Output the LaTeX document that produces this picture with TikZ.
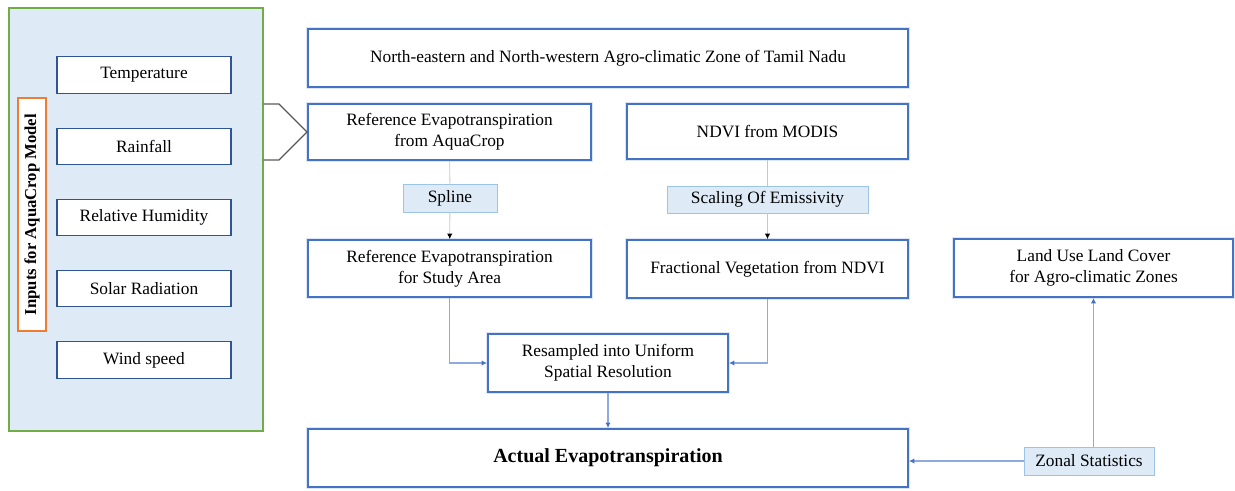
\documentclass[tikz,border=0pt]{standalone}
\usepackage{fontspec}
\setmainfont{Liberation Serif}
\usetikzlibrary{arrows.meta}
\definecolor{boxblue}{HTML}{4472C4}
\definecolor{inblue}{HTML}{2F5597}
\definecolor{panelfill}{HTML}{DEEBF7}
\definecolor{panelgreen}{HTML}{70AD47}
\definecolor{titleorange}{HTML}{ED7D31}
\definecolor{notefill}{HTML}{DEEBF7}
\definecolor{noteborder}{HTML}{9DC3E6}
\definecolor{linegray}{HTML}{C8C8C8}
\definecolor{lineblue}{HTML}{8FAADC}
\definecolor{chevgray}{HTML}{595959}

\begin{document}
\begin{tikzpicture}[x=0.75pt,y=-0.75pt,
    mainbox/.style={draw=boxblue, line width=1.5pt, fill=white,
        preaction={draw=boxblue!18, line width=3.5pt},
        align=center, inner sep=2pt, font=\fontsize{13}{15.5}\selectfont},
    inbox/.style={draw=inblue, line width=0.9pt, fill=white, minimum width=130.5pt,
        minimum height=27.4pt, font=\fontsize{13}{15}\selectfont},
    notebox/.style={draw=noteborder, fill=notefill, line width=0.6pt, inner sep=1pt,
        font=\fontsize{13}{15}\selectfont},
    grayline/.style={draw=linegray, line width=0.6pt},
    blueline/.style={draw=lineblue, line width=0.8pt}]
    \useasboundingbox (0,0) rectangle (1235,490);

    % inputs panel
    \node[draw=panelgreen, fill=panelfill, line width=0.9pt, minimum width=190.5pt,
        minimum height=317.25pt] (panel) at (136,219.5) {};
    \node[draw=titleorange, fill=white, line width=0.9pt, rotate=90, inner sep=0pt,
        minimum width=174.75pt, minimum height=21pt,
        font=\bfseries\fontsize{12.5}{14}\selectfont] (title) at (32,214.5) {Inputs for AquaCrop Model};
    \foreach \name/\ypos/\txt in {temp/75/Temperature, rain/146.5/Rainfall,
        rh/217.5/Relative Humidity, srad/288.5/Solar Radiation, wind/360/Wind speed}
        \node[inbox] (\name) at (144,\ypos) {\txt};

    % main boxes
    \node[mainbox, minimum width=450pt, minimum height=43.5pt] (zone) at (608,58)
        {North-eastern and North-western Agro-climatic Zone of Tamil Nadu};
    \node[mainbox, minimum width=212.25pt, minimum height=42pt] (refA) at (449.5,132)
        {Reference Evapotranspiration\\from AquaCrop};
    \node[mainbox, minimum width=210.75pt, minimum height=41.25pt] (ndvi) at (767.5,131.5)
        {NDVI from MODIS};
    \node[notebox, minimum width=70.5pt, minimum height=21pt] (spline) at (450,198) {Spline};
    \node[notebox, minimum width=150.75pt, minimum height=20.25pt] (scaling) at (767.5,199.5)
        {Scaling Of Emissivity};
    \node[mainbox, minimum width=212.25pt, minimum height=42.75pt] (refS) at (449.5,268.5)
        {Reference Evapotranspiration\\for Study Area};
    \node[mainbox, minimum width=210.75pt, minimum height=43.5pt] (frac) at (767.5,269)
        {Fractional Vegetation from NDVI};
    \node[mainbox, minimum width=209.25pt, minimum height=43.5pt] (lulc) at (1093.5,268)
        {Land Use Land Cover\\for Agro-climatic Zones};
    \node[mainbox, minimum width=180pt, minimum height=43.5pt] (resamp) at (608,363)
        {Resampled into Uniform\\Spatial Resolution};
    \node[mainbox, minimum width=450pt, minimum height=43.5pt,
        font=\bfseries\fontsize{15}{18}\selectfont] (actual) at (608,458) {Actual Evapotranspiration};
    \node[notebox, minimum width=97.5pt, minimum height=21pt] (zonal) at (1089,461) {Zonal Statistics};

    % chevron from the panel
    \draw[chevgray, line width=0.9pt] (panel.east |- 0,104) -- (279,104) -- (refA.west)
        -- (279,160) -- (panel.east |- 0,160);

    % connectors
    \draw[grayline] (refA) -- (spline);
    \draw[grayline, -{Latex[length=4pt,width=4pt,black]}] (spline) -- (refS);
    \draw[grayline] (ndvi) -- (scaling);
    \draw[grayline, -{Latex[length=4pt,width=4pt,black]}] (scaling) -- (frac);
    \draw[blueline, -{Latex[length=4pt,width=4pt,boxblue]}] (refS.south) |- (resamp.west);
    \draw[blueline, -{Latex[length=4pt,width=4pt,boxblue]}] (frac.south) |- (resamp.east);
    \draw[blueline, -{Latex[length=4pt,width=4pt,boxblue]}] (resamp) -- (actual);
    \draw[blueline, -{Latex[length=4pt,width=4pt,boxblue]}] (zonal.west) -- (zonal.west -| actual.east);
    \draw[blueline, -{Latex[length=4pt,width=4pt,boxblue]}] (lulc.south |- zonal.north) -- (lulc.south);
\end{tikzpicture}
\end{document}
